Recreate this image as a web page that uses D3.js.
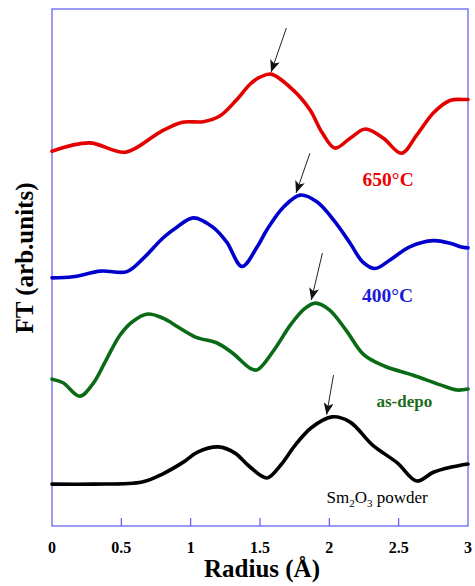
<!doctype html>
<html>
<head>
<meta charset="utf-8"/>
<title>FT Radius</title>
<script src="https://d3js.org/d3.v7.min.js"></script>
<style>
body{margin:0;background:#fff;}
text{font-family:"Liberation Serif","Times New Roman",serif;}
</style>
</head>
<body>
<script>
// radius (Å) and FT amplitude (arb. units, vertically offset per sample)
var rRed   = [0,0.27,0.53,0.78,0.94,1.09,1.21,1.33,1.43,1.50,1.58,1.74,1.86,1.95,2.04,2.15,2.26,2.39,2.52,2.63,2.75,2.87,2.98,3.0];
var ftRed  = [7.25,7.41,7.23,7.62,7.81,7.82,7.93,8.24,8.55,8.68,8.74,8.43,8.05,7.60,7.31,7.50,7.68,7.50,7.21,7.56,7.99,8.23,8.25,8.25];

var rBlue  = [0,0.15,0.35,0.54,0.66,0.80,0.90,1.02,1.16,1.26,1.37,1.48,1.55,1.67,1.79,1.91,2.03,2.15,2.24,2.33,2.44,2.58,2.75,2.87,2.96,3.0];
var ftBlue = [4.80,4.82,4.93,4.92,5.18,5.57,5.78,5.96,5.78,5.49,5.02,5.40,5.73,6.17,6.40,6.27,5.92,5.47,5.11,4.98,5.15,5.40,5.52,5.47,5.39,5.38];

var rGreen  = [0,0.08,0.20,0.30,0.39,0.49,0.58,0.69,0.80,0.92,1.04,1.19,1.30,1.43,1.48,1.60,1.72,1.82,1.90,2.00,2.12,2.25,2.40,2.60,2.80,2.92,3.0];
var ftGreen = [2.84,2.77,2.51,2.77,3.21,3.69,3.95,4.10,4.02,3.83,3.65,3.54,3.35,3.05,3.02,3.40,3.89,4.20,4.31,4.18,3.79,3.31,3.09,2.92,2.73,2.63,2.65];

var rBlack  = [0,0.3,0.65,0.8,0.95,1.05,1.2,1.32,1.42,1.55,1.65,1.75,1.87,2.02,2.15,2.31,2.49,2.63,2.75,2.88,3.0];
var ftBlack = [0.81,0.81,0.85,1.01,1.24,1.43,1.53,1.41,1.16,0.93,1.18,1.55,1.90,2.11,2.01,1.57,1.22,0.87,1.04,1.14,1.20];

var xTicks = [0,0.5,1,1.5,2,2.5,3];

// arrows: [r tail, ft tail, r tip, ft tip]
var arrows = [[1.69,9.63,1.58,8.78],[1.86,7.21,1.76,6.44],[1.95,5.28,1.87,4.37],[2.03,2.92,1.98,2.15]];

var W = 475, H = 586;
var m = {left:52, right:7, top:9, bottom:60};

var svg = d3.select("body").append("svg")
    .attr("width", W).attr("height", H);

var x = d3.scaleLinear().domain([0,3]).range([m.left, W-m.right]);
var y = d3.scaleLinear().domain([0,10]).range([H-m.bottom, H-m.bottom-517]);

var frame = "#5a5af0";

// frame
svg.append("rect")
    .attr("x", x(0)).attr("y", y(10))
    .attr("width", x(3)-x(0)).attr("height", y(0)-y(10))
    .attr("fill","none").attr("stroke",frame).attr("stroke-width",1.2);

// ticks inside bottom
svg.selectAll(".tk").data(xTicks.slice(1,-1)).enter().append("line")
    .attr("x1", function(d){return x(d);}).attr("x2", function(d){return x(d);})
    .attr("y1", y(0)).attr("y2", y(0)-8)
    .attr("stroke",frame).attr("stroke-width",1.2);

svg.selectAll(".tl").data(xTicks).enter().append("text")
    .attr("x", function(d){return x(d);}).attr("y", y(0)+27)
    .attr("text-anchor","middle").attr("font-size",16).attr("font-weight","bold")
    .text(function(d){return d;});

svg.append("text")
    .attr("x", (x(0)+x(3))/2 + 2).attr("y", 577)
    .attr("text-anchor","middle").attr("font-size",25).attr("font-weight","bold")
    .text("Radius (Å)");

svg.append("text")
    .attr("transform","translate(33,258) rotate(-90)")
    .attr("text-anchor","middle").attr("font-size",25).attr("font-weight","bold")
    .text("FT (arb.units)");

var line = d3.line().curve(d3.curveCatmullRom.alpha(0.5))
    .x(function(d){return x(d[0]);}).y(function(d){return y(d[1]);});

var series = [
  {r:rRed, v:ftRed, c:"#e30000"},
  {r:rBlue, v:ftBlue, c:"#0000cc"},
  {r:rGreen, v:ftGreen, c:"#0b6a16"},
  {r:rBlack, v:ftBlack, c:"#000000"}
];

series.forEach(function(s){
  svg.append("path")
    .datum(d3.zip(s.r, s.v))
    .attr("d", line)
    .attr("fill","none").attr("stroke",s.c)
    .attr("stroke-width",3.6).attr("stroke-linejoin","round").attr("stroke-linecap","round");
});

// arrow marker
svg.append("defs").append("marker")
    .attr("id","ah").attr("viewBox","0 0 12 10")
    .attr("refX",12).attr("refY",5)
    .attr("markerWidth",12).attr("markerHeight",10)
    .attr("markerUnits","userSpaceOnUse")
    .attr("orient","auto")
  .append("path").attr("d","M0,0 L12,5 L0,10 L3,5 Z").attr("fill","#111");

svg.selectAll(".ar").data(arrows).enter().append("line")
    .attr("x1", function(d){return x(d[0]);}).attr("y1", function(d){return y(d[1]);})
    .attr("x2", function(d){return x(d[2]);}).attr("y2", function(d){return y(d[3]);})
    .attr("stroke","#222").attr("stroke-width",1)
    .attr("marker-end","url(#ah)");

// labels
svg.append("text").attr("x", x(2.24)).attr("y", y(6.58))
    .attr("font-size",19.5).attr("font-weight","bold").attr("fill","#f00000")
    .text("650°C");
svg.append("text").attr("x", x(2.235)).attr("y", y(4.33))
    .attr("font-size",19.5).attr("font-weight","bold").attr("fill","#1a1ad8")
    .text("400°C");
svg.append("text").attr("x", x(2.34)).attr("y", y(2.30))
    .attr("font-size",17).attr("font-weight","bold").attr("fill","#1b6b1b")
    .text("as-depo");

var sm = svg.append("text").attr("x", x(1.98)).attr("y", y(0.44))
    .attr("font-size",17).attr("fill","#000");
sm.append("tspan").text("Sm");
sm.append("tspan").attr("dy",4).attr("font-size",11).text("2");
sm.append("tspan").attr("dy",-4).text("O");
sm.append("tspan").attr("dy",4).attr("font-size",11).text("3");
sm.append("tspan").attr("dy",-4).text(" powder");
</script>
</body>
</html>
